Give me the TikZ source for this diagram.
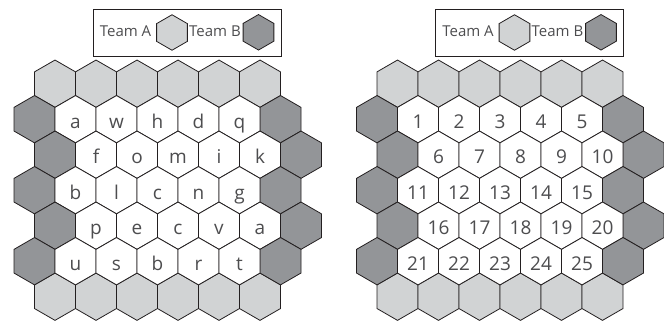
\documentclass[tikz,border=0pt]{standalone}
\usepackage{fontspec}
\setmainfont{Open Sans}
\usetikzlibrary{shapes.geometric}
\definecolor{teamA}{HTML}{D1D3D4}
\definecolor{teamB}{HTML}{939598}
\definecolor{edge}{HTML}{231F20}
\definecolor{ink}{HTML}{4D4D4F}

\begin{document}
\begin{tikzpicture}[x=1pt,y=-1pt,
  hexcell/.style={draw=edge,line width=0.8pt,regular polygon,regular polygon sides=6,regular polygon rotate=30,minimum size=47.34pt,inner sep=0pt,outer sep=0pt,fill=white,text=ink,font=\fontsize{19}{23}\selectfont,text height=18pt,text depth=0pt},
  hexA/.style={hexcell,fill=teamA},
  hexB/.style={hexcell,fill=teamB},
  keyhex/.style={draw=edge,line width=0.8pt,regular polygon,regular polygon sides=6,regular polygon rotate=30,minimum size=35.5pt,inner sep=0pt},
  keytext/.style={text=ink,font=\fontsize{15}{18}\selectfont,anchor=base,inner sep=0pt}]
\useasboundingbox (0,0) rectangle (664,321);
% legend and the light rows at top and bottom
\foreach \side/\ox in {l/0,r/342.5}{
  \node[draw=edge,line width=1pt,minimum width=188pt,minimum height=47.5pt,inner sep=0pt] (\side-key) at (\ox+187,33) {};
  \node[keytext] (\side-keyA) at (\ox+125.5,36.7) {Team A};
  \node[keyhex,fill=teamA] (\side-hexA) at (\ox+172,32.5) {};
  \node[keytext] (\side-keyB) at (\ox+215,36.7) {Team B};
  \node[keyhex,fill=teamB] (\side-hexB) at (\ox+258.5,32.3) {};
  \foreach \i in {0,...,5}{
    \node[hexA] (\side-0-\i) at (\ox+55+41*\i,83.7) {};
    \node[hexA] (\side-6-\i) at (\ox+55+41*\i,296.7) {};
  }
}
% inner rows: dark ends, white cells with letters / numbers
\foreach \r/\dx/\row in {1/34.5/{a,w,h,d,q},2/55/{f,o,m,i,k},3/34.5/{b,l,c,n,g},4/55/{p,e,c,v,a},5/34.5/{u,s,b,r,t}}{
  \node[hexB] (l-\r-0) at (\dx,83.7+35.5*\r) {};
  \node[hexB] (l-\r-6) at (\dx+246,83.7+35.5*\r) {};
  \node[hexB] (r-\r-0) at (\dx+342.5,83.7+35.5*\r) {};
  \node[hexB] (r-\r-6) at (\dx+588.5,83.7+35.5*\r) {};
  \foreach \t [count=\i] in \row {
    \pgfmathtruncatemacro\num{5*(\r-1)+\i}
    \node[hexcell] (l-\r-\i) at (\dx+41*\i,83.7+35.5*\r) {\t};
    \node[hexcell] (r-\r-\i) at (\dx+342.5+41*\i,83.7+35.5*\r) {\num};
  }
}
\end{tikzpicture}
\end{document}
